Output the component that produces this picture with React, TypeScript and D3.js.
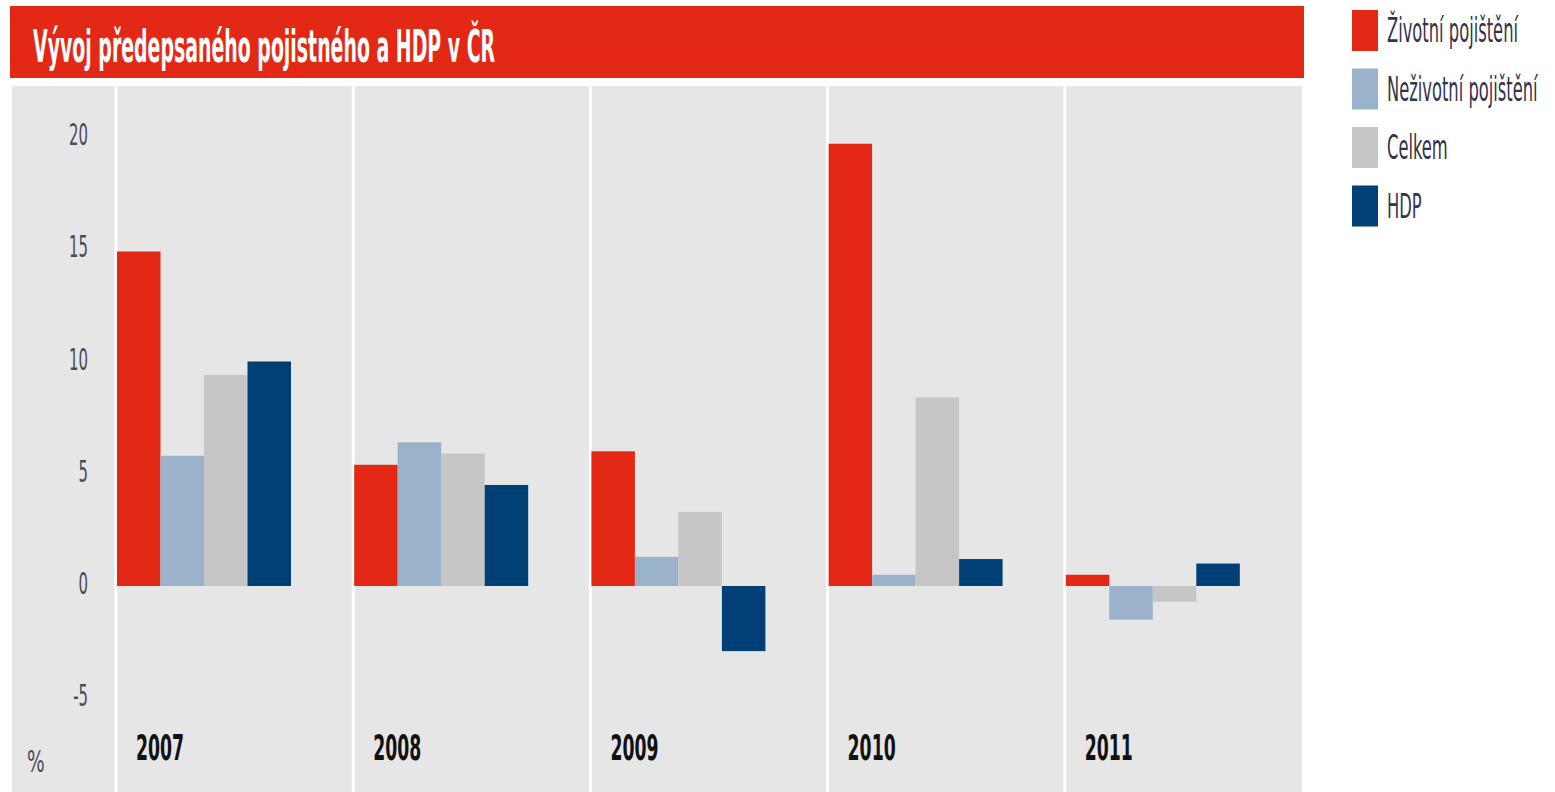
import React from "react";
import * as d3 from "d3";

const years = ["2007", "2008", "2009", "2010", "2011"];
const seriesNames = ["Životní pojištění", "Neživotní pojištění", "Celkem", "HDP"];
const seriesColors = ["#e42816", "#9ab3cb", "#c6c6c6", "#013f77"];
const zivotni = [14.9, 5.4, 6.0, 19.7, 0.5];
const nezivotni = [5.8, 6.4, 1.3, 0.5, -1.5];
const celkem = [9.4, 5.9, 3.3, 8.4, -0.7];
const hdp = [10.0, 4.5, -2.9, 1.2, 1.0];
const yTicks = [20, 15, 10, 5, 0, -5];
const title = "Vývoj předepsaného pojistného a HDP v ČR";

const FONT = "'DejaVu Sans', sans-serif";
const SX = 0.48;

function CText(props: { x: number; y: number; size: number; fill: string; bold?: boolean; anchor?: string; sx?: number; children: React.ReactNode }) {
  const { x, y, size, fill, bold, anchor, sx, children } = props;
  return (
    <text
      transform={`translate(${x},${y}) scale(${sx ?? SX},1)`}
      textAnchor={anchor ?? "start"}
      fill={fill}
      fontFamily={FONT}
      fontWeight={bold ? "bold" : "normal"}
      fontSize={size}
    >
      {children}
    </text>
  );
}

export default function App() {
  const W = 1555, H = 792;
  const series = [zivotni, nezivotni, celkem, hdp];
  const y = d3.scaleLinear().domain([0, 20]).range([586, 137]);
  const x = d3.scaleBand<string>().domain(years).range([116, 1302]).padding(0);
  const inner = d3.scaleBand<number>().domain([0, 1, 2, 3]).range([0, 174]).padding(0);

  return (
    <svg width={W} height={H} style={{ position: "absolute", left: 0, top: 0, background: "#fff" }}>
      <rect x={10} y={6} width={1294} height={72} fill="#e42816" />
      <CText x={33} y={62} size={44} sx={0.43} fill="#fff" bold>{title}</CText>
      <rect x={12} y={86} width={1290} height={H - 86} fill="#e6e6e6" />
      {years.map((yr) => (
        <rect key={"sep" + yr} x={(x(yr) as number) - 1.5} y={86} width={3} height={H - 86} fill="#fff" />
      ))}
      {yTicks.map((t) => (
        <CText key={"t" + t} x={88} y={y(t) + 8} size={31} anchor="end" fill="#4a4a58">{t}</CText>
      ))}
      <CText x={27} y={772} size={31} sx={0.6} fill="#4a4a58">%</CText>
      {years.map((yr, i) => (
        <g key={"g" + yr} transform={`translate(${(x(yr) as number) + 1},0)`}>
          {series.map((s, j) => {
            const v = s[i];
            const y0 = y(0), y1 = y(v);
            return (
              <rect key={j} x={inner(j) as number} width={inner.bandwidth()} y={Math.min(y0, y1)} height={Math.abs(y1 - y0)} fill={seriesColors[j]} />
            );
          })}
          <CText x={19} y={760} size={36} fill="#111" bold>{yr}</CText>
        </g>
      ))}
      {seriesNames.map((n, j) => (
        <g key={"l" + j} transform={`translate(1352,${10 + j * 58.5})`}>
          <rect x={0} y={0} width={26} height={41} fill={seriesColors[j]} />
          <CText x={35} y={32} size={34} fill="#33334a">{n}</CText>
        </g>
      ))}
    </svg>
  );
}
